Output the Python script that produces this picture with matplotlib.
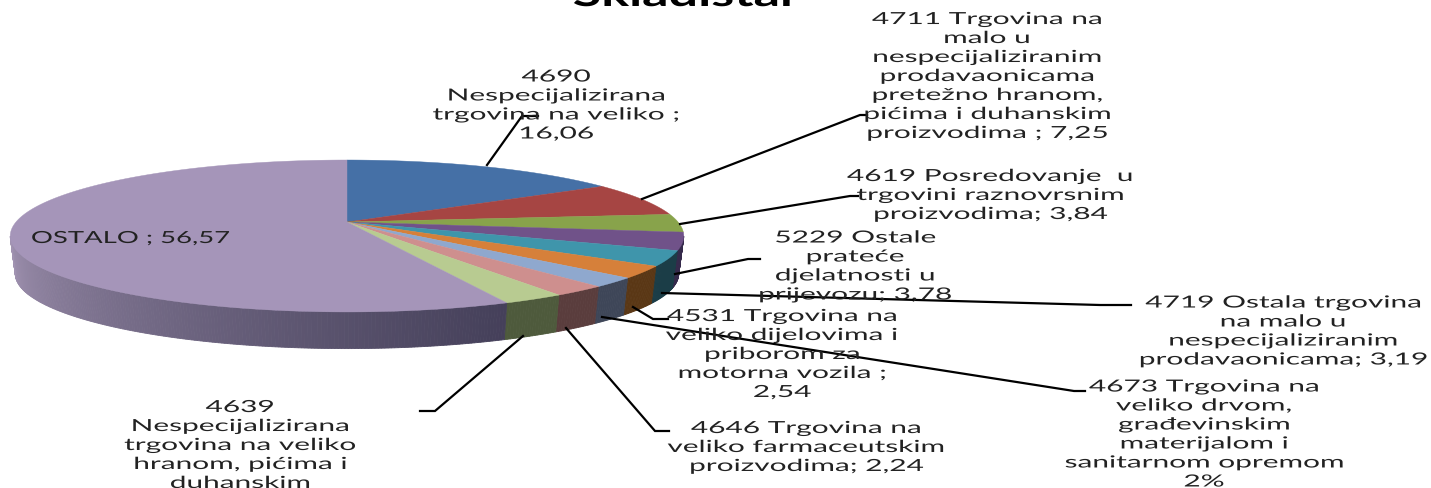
import numpy as np
import matplotlib
matplotlib.use("Agg")
import matplotlib.pyplot as plt
from matplotlib.patheffects import AbstractPathEffect
from matplotlib.transforms import Affine2D

title = "Skladištar"
values = [16.06, 7.25, 3.84, 3.78, 3.19, 2.54, 2.0, 2.24, 2.53, 56.57]
top_colors = ["#4570A6", "#A64543", "#88A34B", "#705289", "#3F95AB", "#D6803A",
              "#8FA8CE", "#CE8F8E", "#B8CB91", "#A595B9"]
side_colors = ["#2A4363", "#632A29", "#52622D", "#352A4B", "#1B3D47", "#5A3715",
               "#3E4658", "#5A3D3D", "#4E5A3C", "#45405A"]
ostalo_side_left = "#A294B2"

labels = [
    "4690\nNespecijalizirana\ntrgovina na veliko ;\n16,06",
    "4711 Trgovina na\nmalo u\nnespecijaliziranim\nprodavaonicama\npretežno hranom,\npićima i duhanskim\nproizvodima ; 7,25",
    "4619 Posredovanje  u\ntrgovini raznovrsnim\nproizvodima; 3,84",
    "5229 Ostale\nprateće\ndjelatnosti u\nprijevozu; 3,78",
    "4719 Ostala trgovina\nna malo u\nnespecijaliziranim\nprodavaonicama; 3,19",
    "4531 Trgovina na\nveliko dijelovima i\npriborom za\nmotorna vozila ;\n2,54",
    "4673 Trgovina na\nveliko drvom,\ngrađevinskim\nmaterijalom i\nsanitarnom opremom\n2%",
    "4646 Trgovina na\nveliko farmaceutskim\nproizvodima; 2,24",
    "4639\nNespecijalizirana\ntrgovina na veliko\nhranom, pićima i\nduhanskim",
    "OSTALO ; 56,57",
]
label_pos = [(556, 106), (987, 77), (990, 196), (855, 267), (1283, 332),
             (782, 355), (1204, 435), (806, 448), (240, 446), (130, 239)]
label_stretch = [1.79] * 9 + [1.65]
leaders = [
    [(487, 166), (522, 117), (538, 117)],
    [(642, 200), (860, 116), (867, 116)],
    [(680, 225), (850, 197), (858, 197)],
    [(675, 275), (748, 260), (760, 260)],
    [(662, 294), (1100, 306), (1131, 306)],
    [(633, 308), (653, 320), (668, 320)],
    [(602, 318), (1074, 392), (1085, 392)],
    [(566, 329), (655, 432), (669, 432)],
    [(523, 337), (435, 412), (420, 412)],
]


class WideText(AbstractPathEffect):
    # the source picture was squashed, so its lettering is much wider than tall
    def __init__(self, stretch, cx):
        super().__init__()
        self.stretch = stretch
        self.cx = cx

    def draw_path(self, renderer, gc, tpath, affine, rgbFace=None):
        wide = Affine2D().translate(-self.cx, 0).scale(self.stretch, 1).translate(self.cx, 0)
        renderer.draw_path(gc, tpath, affine + wide, rgbFace)


def project(ang, scale=1.0, dy=0.0):
    # tilted circle seen in perspective, apex of the slices is not the ellipse centre
    c = 0.184
    u, v = np.sin(ang), np.cos(ang)
    w = 1 + c * v
    return 347 + 331 * scale * u / w, 223 + dy - 73.4 * scale * v / w


def mix(a, b, t):
    a, b = matplotlib.colors.to_rgb(a), matplotlib.colors.to_rgb(b)
    return tuple(a[i] + (b[i] - a[i]) * t for i in range(3))


fig = plt.figure(figsize=(14.31, 4.89), dpi=100)
ax = fig.add_axes([0, 0, 1, 1])
ax.set_xlim(0, 1431)
ax.set_ylim(489, 0)
ax.axis("off")

edges = np.radians(np.concatenate([[0], np.cumsum(values)]) * 360 / sum(values))
side_from, side_to = np.radians(100.6), np.radians(259.4)

# side wall first, only the front part shows, then the top
for i in range(len(values)):
    lo, hi = max(edges[i], side_from), min(edges[i + 1], side_to)
    if hi <= lo:
        continue
    n = max(int((hi - lo) * 120), 2)
    ts = np.linspace(lo, hi, n + 1)
    for j in range(n):
        t0, t1 = ts[j], ts[j + 1]
        x0, y0 = project(t0)
        x1, y1 = project(t1)
        x2, y2 = project(t1, 0.985, 38)
        x3, y3 = project(t0, 0.985, 38)
        if i == len(values) - 1:
            f = (t0 - edges[i]) / (side_to - edges[i])
            col = mix(side_colors[i], ostalo_side_left, f ** 1.1)
        else:
            col = side_colors[i]
        ax.fill([x0, x1, x2, x3], [y0, y1, y2, y3], color=col, lw=0.6, zorder=1)

for i in range(len(values)):
    ts = np.linspace(edges[i], edges[i + 1], 200)
    xs, ys = project(ts)
    ax.fill(np.r_[347, xs], np.r_[223, ys], color=top_colors[i], lw=0.3, zorder=2)

for pts in leaders:
    ax.plot(*zip(*pts), color="black", lw=1.6, zorder=3, solid_joinstyle="miter")

for txt, (x, y), st in zip(labels, label_pos, label_stretch):
    cx = ax.transData.transform((x, y))[0]
    ax.text(x, y, txt, ha="center", va="center", fontsize=12, linespacing=1.23,
            family="Lato", color="#222222", zorder=4,
            path_effects=[WideText(st, cx)])

ax.text(686, 7, title, ha="center", va="baseline", fontsize=25, fontweight="bold",
        family="Lato", color="black", path_effects=[WideText(1.5, 686)])

fig.savefig("out.png", dpi=100)
